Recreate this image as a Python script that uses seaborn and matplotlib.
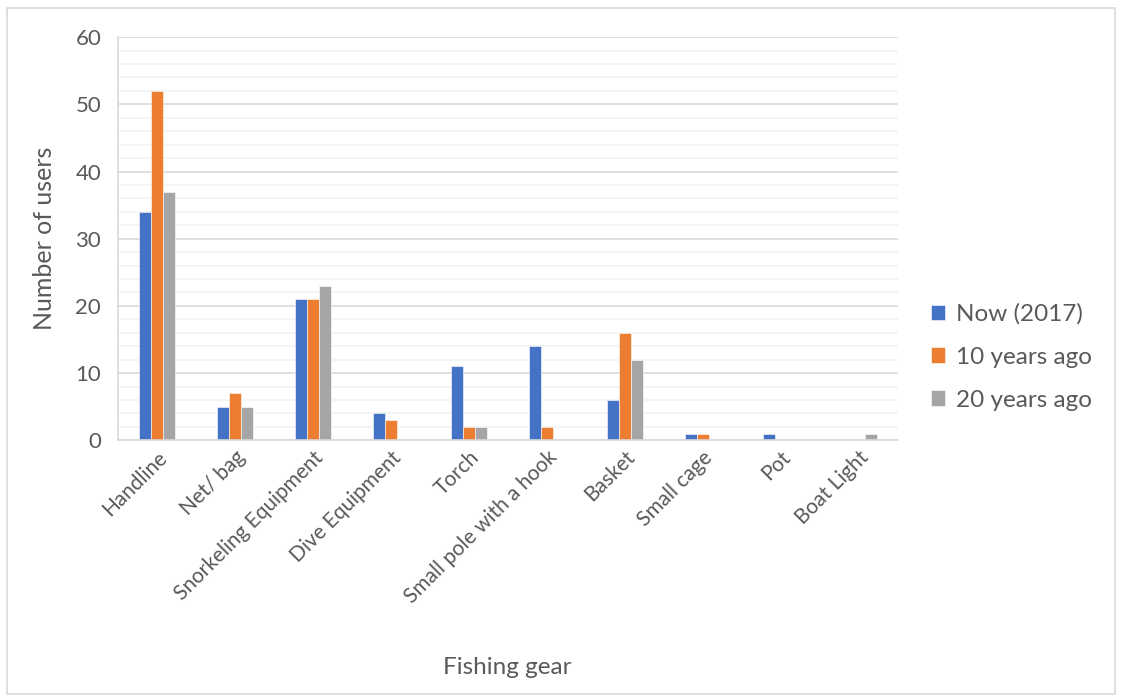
import numpy as np
import pandas as pd
import matplotlib
matplotlib.use('Agg')
import matplotlib.pyplot as plt
from matplotlib.ticker import MultipleLocator
from matplotlib.patches import Rectangle
import seaborn as sns

# ===================== 数据 =====================
gear = ['Handline', 'Net/ bag', 'Snorkeling Equipment', 'Dive Equipment', 'Torch',
        'Small pole with a hook', 'Basket', 'Small cage', 'Pot', 'Boat Light']
periods = ['Now (2017)', '10 years ago', '20 years ago']
now_2017 = [34, 5, 21, 4, 11, 14, 6, 1, 1, 0]
ago_10 = [52, 7, 21, 3, 2, 2, 16, 1, 0, 0]
ago_20 = [37, 5, 23, 0, 2, 0, 12, 0, 0, 1]
colors = ['#4472C4', '#ED7D31', '#A5A5A5']

df = pd.DataFrame({
    'gear': gear * 3,
    'period': [periods[0]] * len(gear) + [periods[1]] * len(gear) + [periods[2]] * len(gear),
    'users': now_2017 + ago_10 + ago_20,
})

sns.set_style('white')
plt.rcParams['font.family'] = ['Lato', 'DejaVu Sans']
text_col = '#595959'

fig = plt.figure(figsize=(11.22, 7.0), dpi=100)
ax = fig.add_axes([0.105, 0.371, 0.695, 0.576])

sns.barplot(data=df, x='gear', y='users', hue='period', order=gear, hue_order=periods,
            palette=colors, width=0.46, gap=0, edgecolor='white', linewidth=0.4,
            saturation=1, ax=ax, legend=True)

# 网格线
ax.set_ylim(0, 60)
ax.yaxis.set_major_locator(MultipleLocator(10))
ax.yaxis.set_minor_locator(MultipleLocator(2))
ax.grid(which='minor', axis='y', color='#F2F2F2', linewidth=1.2)
ax.grid(which='major', axis='y', color='#D9D9D9', linewidth=1.2)
ax.set_axisbelow(True)
ax.set_xlim(-0.5, len(gear) - 0.5)

for s in ['top', 'right']:
    ax.spines[s].set_visible(False)
ax.spines['left'].set_color('#D9D9D9')
ax.spines['bottom'].set_color('#D9D9D9')
ax.spines['left'].set_linewidth(1.2)
ax.spines['bottom'].set_linewidth(1.2)

ax.tick_params(axis='y', which='major', length=6, color='#D9D9D9', width=1.2,
               labelsize=16, labelcolor=text_col, pad=6)
ax.tick_params(axis='y', which='minor', length=0)
ax.tick_params(axis='x', length=0, labelsize=15, labelcolor=text_col, pad=5)
plt.setp(ax.get_xticklabels(), rotation=45, ha='right', rotation_mode='anchor')

ax.set_ylabel('Number of users', fontsize=18, color=text_col, labelpad=14)
ax.set_xlabel('Fishing gear', fontsize=17.5, color=text_col, labelpad=36)

# 图例
handles, labels = ax.get_legend_handles_labels()
ax.legend_.remove()
fig.legend(handles, labels, loc='center left', bbox_to_anchor=(0.81, 0.49),
           frameon=False, fontsize=17.5, labelcolor=text_col, handlelength=0.6,
           handleheight=0.6, handletextpad=0.45, labelspacing=0.9)

# 外框
fig.patches.append(Rectangle((0.006, 0.008), 0.988, 0.98, transform=fig.transFigure,
                             fill=False, edgecolor='#D9D9D9', linewidth=1.2))

fig.savefig('out.png', dpi=100)
